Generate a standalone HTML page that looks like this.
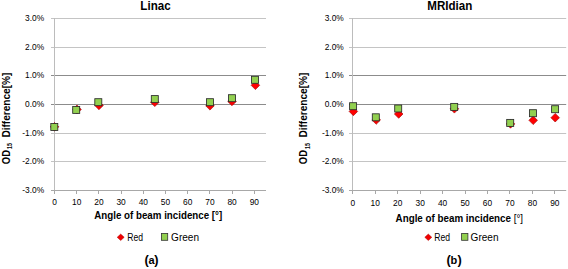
<!DOCTYPE html><html><head><meta charset="utf-8"><style>html,body{margin:0;padding:0;background:#fff;width:568px;height:269px;overflow:hidden}svg{display:block}</style></head><body>
<svg width="568" height="269" viewBox="0 0 568 269" font-family='"Liberation Sans", sans-serif'>
<rect width="568" height="269" fill="#fff"/>
<line x1="51" y1="18.5" x2="266" y2="18.5" stroke="#c4c4c4" stroke-width="1"/>
<line x1="51" y1="47.5" x2="266" y2="47.5" stroke="#c4c4c4" stroke-width="1"/>
<line x1="51" y1="75.5" x2="266" y2="75.5" stroke="#8c8c8c" stroke-width="1"/>
<line x1="51" y1="104.5" x2="266" y2="104.5" stroke="#8c8c8c" stroke-width="1"/>
<line x1="51" y1="133.5" x2="266" y2="133.5" stroke="#c4c4c4" stroke-width="1"/>
<line x1="51" y1="161.5" x2="266" y2="161.5" stroke="#c4c4c4" stroke-width="1"/>
<line x1="51" y1="190.5" x2="266" y2="190.5" stroke="#a8a8a8" stroke-width="1"/>
<line x1="54.5" y1="18" x2="54.5" y2="194" stroke="#bcbcbc" stroke-width="1"/>
<line x1="54.5" y1="190" x2="54.5" y2="194" stroke="#a8a8a8" stroke-width="1"/>
<line x1="76.5" y1="190" x2="76.5" y2="194" stroke="#a8a8a8" stroke-width="1"/>
<line x1="98.5" y1="190" x2="98.5" y2="194" stroke="#a8a8a8" stroke-width="1"/>
<line x1="121.5" y1="190" x2="121.5" y2="194" stroke="#a8a8a8" stroke-width="1"/>
<line x1="143.5" y1="190" x2="143.5" y2="194" stroke="#a8a8a8" stroke-width="1"/>
<line x1="165.5" y1="190" x2="165.5" y2="194" stroke="#a8a8a8" stroke-width="1"/>
<line x1="187.5" y1="190" x2="187.5" y2="194" stroke="#a8a8a8" stroke-width="1"/>
<line x1="209.5" y1="190" x2="209.5" y2="194" stroke="#a8a8a8" stroke-width="1"/>
<line x1="232.5" y1="190" x2="232.5" y2="194" stroke="#a8a8a8" stroke-width="1"/>
<line x1="254.5" y1="190" x2="254.5" y2="194" stroke="#a8a8a8" stroke-width="1"/>
<text x="44.2" y="21.4" text-anchor="end" font-size="8.4" fill="#000">3.0%</text>
<text x="44.2" y="50.4" text-anchor="end" font-size="8.4" fill="#000">2.0%</text>
<text x="44.2" y="78.4" text-anchor="end" font-size="8.4" fill="#000">1.0%</text>
<text x="44.2" y="107.4" text-anchor="end" font-size="8.4" fill="#000">0.0%</text>
<text x="44.2" y="136.4" text-anchor="end" font-size="8.4" fill="#000">-1.0%</text>
<text x="44.2" y="164.4" text-anchor="end" font-size="8.4" fill="#000">-2.0%</text>
<text x="44.2" y="193.4" text-anchor="end" font-size="8.4" fill="#000">-3.0%</text>
<text x="54.5" y="204.8" text-anchor="middle" font-size="8.4" fill="#000">0</text>
<text x="76.7" y="204.8" text-anchor="middle" font-size="8.4" fill="#000">10</text>
<text x="98.9" y="204.8" text-anchor="middle" font-size="8.4" fill="#000">20</text>
<text x="121.1" y="204.8" text-anchor="middle" font-size="8.4" fill="#000">30</text>
<text x="143.3" y="204.8" text-anchor="middle" font-size="8.4" fill="#000">40</text>
<text x="165.5" y="204.8" text-anchor="middle" font-size="8.4" fill="#000">50</text>
<text x="187.7" y="204.8" text-anchor="middle" font-size="8.4" fill="#000">60</text>
<text x="209.9" y="204.8" text-anchor="middle" font-size="8.4" fill="#000">70</text>
<text x="232.1" y="204.8" text-anchor="middle" font-size="8.4" fill="#000">80</text>
<text x="254.29999999999998" y="204.8" text-anchor="middle" font-size="8.4" fill="#000">90</text>
<text x="155.5" y="9.9" text-anchor="middle" font-size="12.3" font-weight="bold" fill="#000" textLength="30.3" lengthAdjust="spacingAndGlyphs">Linac</text>
<text transform="translate(9.6,164.2) rotate(-90)" x="0" y="0" font-size="10.2" font-weight="bold" fill="#000" textLength="14.3" lengthAdjust="spacingAndGlyphs">OD</text>
<text transform="translate(12.0,148.9) rotate(-90)" x="0" y="0" font-size="6.6" font-weight="bold" fill="#000" textLength="5.8" lengthAdjust="spacingAndGlyphs">15</text>
<text transform="translate(9.6,137.6) rotate(-90)" x="0" y="0" font-size="10.2" font-weight="bold" fill="#000" textLength="64.9" lengthAdjust="spacingAndGlyphs">Difference[%]</text>
<text x="94.3" y="219.1" font-size="10.3" font-weight="bold" fill="#000" textLength="127.9" lengthAdjust="spacingAndGlyphs">Angle of beam incidence [°]</text>
<path d="M120.7 234.10000000000002 L124.2 237.3 L120.7 240.5 L117.2 237.3 Z" fill="#f00000" stroke="#b00000" stroke-width="0.5"/>
<text x="127.3" y="240.5" font-size="10.4" fill="#000" textLength="15.8" lengthAdjust="spacingAndGlyphs">Red</text>
<rect x="161.4" y="233.4" width="6.3" height="6.9" fill="#92d050" stroke="#333" stroke-width="0.8"/>
<text x="171.1" y="240.5" font-size="10.4" fill="#000" textLength="27.9" lengthAdjust="spacingAndGlyphs">Green</text>
<path d="M54.5 122.5 L58.8 126.8 L54.5 131.1 L50.2 126.8 Z" fill="#ff0000" stroke="#a00000" stroke-width="0.6"/>
<path d="M77 105.10000000000001 L81.3 109.4 L77 113.7 L72.7 109.4 Z" fill="#ff0000" stroke="#a00000" stroke-width="0.6"/>
<path d="M99 101.10000000000001 L103.3 105.4 L99 109.7 L94.7 105.4 Z" fill="#ff0000" stroke="#a00000" stroke-width="0.6"/>
<path d="M154.8 98.0 L159.10000000000002 102.3 L154.8 106.6 L150.5 102.3 Z" fill="#ff0000" stroke="#a00000" stroke-width="0.6"/>
<path d="M210 101.5 L214.3 105.8 L210 110.1 L205.7 105.8 Z" fill="#ff0000" stroke="#a00000" stroke-width="0.6"/>
<path d="M232 97.10000000000001 L236.3 101.4 L232 105.7 L227.7 101.4 Z" fill="#ff0000" stroke="#a00000" stroke-width="0.6"/>
<path d="M255.4 81.0 L259.7 85.3 L255.4 89.6 L251.1 85.3 Z" fill="#ff0000" stroke="#a00000" stroke-width="0.6"/>
<rect x="50.8" y="123.5" width="7.0" height="7.0" fill="#92d050" stroke="#2a2a2a" stroke-width="0.85"/>
<rect x="72.7" y="106.4" width="7.0" height="7.0" fill="#92d050" stroke="#2a2a2a" stroke-width="0.85"/>
<rect x="94.8" y="98.7" width="7.0" height="7.0" fill="#92d050" stroke="#2a2a2a" stroke-width="0.85"/>
<rect x="151.3" y="95.6" width="7.0" height="7.0" fill="#92d050" stroke="#2a2a2a" stroke-width="0.85"/>
<rect x="206.5" y="98.7" width="7.0" height="7.0" fill="#92d050" stroke="#2a2a2a" stroke-width="0.85"/>
<rect x="228.5" y="94.7" width="7.0" height="7.0" fill="#92d050" stroke="#2a2a2a" stroke-width="0.85"/>
<rect x="251.5" y="76.3" width="7.0" height="7.0" fill="#92d050" stroke="#2a2a2a" stroke-width="0.85"/>
<text x="144.5" y="263.7" font-size="12.8" font-weight="bold" fill="#000">(</text>
<text x="148.4" y="263.6" font-size="11" font-weight="bold" fill="#000">a</text>
<text x="154.3" y="263.7" font-size="12.8" font-weight="bold" fill="#000">)</text>
<line x1="349" y1="18.5" x2="566.2" y2="18.5" stroke="#c4c4c4" stroke-width="1"/>
<line x1="349" y1="47.5" x2="566.2" y2="47.5" stroke="#c4c4c4" stroke-width="1"/>
<line x1="349" y1="75.5" x2="566.2" y2="75.5" stroke="#8c8c8c" stroke-width="1"/>
<line x1="349" y1="104.5" x2="566.2" y2="104.5" stroke="#8c8c8c" stroke-width="1"/>
<line x1="349" y1="133.5" x2="566.2" y2="133.5" stroke="#c4c4c4" stroke-width="1"/>
<line x1="349" y1="161.5" x2="566.2" y2="161.5" stroke="#c4c4c4" stroke-width="1"/>
<line x1="349" y1="190.5" x2="566.2" y2="190.5" stroke="#a8a8a8" stroke-width="1"/>
<line x1="352.5" y1="18" x2="352.5" y2="194" stroke="#bcbcbc" stroke-width="1"/>
<line x1="352.5" y1="190" x2="352.5" y2="194" stroke="#a8a8a8" stroke-width="1"/>
<line x1="375.5" y1="190" x2="375.5" y2="194" stroke="#a8a8a8" stroke-width="1"/>
<line x1="397.5" y1="190" x2="397.5" y2="194" stroke="#a8a8a8" stroke-width="1"/>
<line x1="420.5" y1="190" x2="420.5" y2="194" stroke="#a8a8a8" stroke-width="1"/>
<line x1="442.5" y1="190" x2="442.5" y2="194" stroke="#a8a8a8" stroke-width="1"/>
<line x1="465.5" y1="190" x2="465.5" y2="194" stroke="#a8a8a8" stroke-width="1"/>
<line x1="487.5" y1="190" x2="487.5" y2="194" stroke="#a8a8a8" stroke-width="1"/>
<line x1="509.5" y1="190" x2="509.5" y2="194" stroke="#a8a8a8" stroke-width="1"/>
<line x1="532.5" y1="190" x2="532.5" y2="194" stroke="#a8a8a8" stroke-width="1"/>
<line x1="554.5" y1="190" x2="554.5" y2="194" stroke="#a8a8a8" stroke-width="1"/>
<text x="343.8" y="21.4" text-anchor="end" font-size="8.4" fill="#000">3.0%</text>
<text x="343.8" y="50.4" text-anchor="end" font-size="8.4" fill="#000">2.0%</text>
<text x="343.8" y="78.4" text-anchor="end" font-size="8.4" fill="#000">1.0%</text>
<text x="343.8" y="107.4" text-anchor="end" font-size="8.4" fill="#000">0.0%</text>
<text x="343.8" y="136.4" text-anchor="end" font-size="8.4" fill="#000">-1.0%</text>
<text x="343.8" y="164.4" text-anchor="end" font-size="8.4" fill="#000">-2.0%</text>
<text x="343.8" y="193.4" text-anchor="end" font-size="8.4" fill="#000">-3.0%</text>
<text x="352.8" y="206" text-anchor="middle" font-size="8.4" fill="#000">0</text>
<text x="375.25" y="206" text-anchor="middle" font-size="8.4" fill="#000">10</text>
<text x="397.7" y="206" text-anchor="middle" font-size="8.4" fill="#000">20</text>
<text x="420.15" y="206" text-anchor="middle" font-size="8.4" fill="#000">30</text>
<text x="442.6" y="206" text-anchor="middle" font-size="8.4" fill="#000">40</text>
<text x="465.05" y="206" text-anchor="middle" font-size="8.4" fill="#000">50</text>
<text x="487.5" y="206" text-anchor="middle" font-size="8.4" fill="#000">60</text>
<text x="509.95000000000005" y="206" text-anchor="middle" font-size="8.4" fill="#000">70</text>
<text x="532.4" y="206" text-anchor="middle" font-size="8.4" fill="#000">80</text>
<text x="554.85" y="206" text-anchor="middle" font-size="8.4" fill="#000">90</text>
<text x="449.8" y="9.9" text-anchor="middle" font-size="12.3" font-weight="bold" fill="#000" textLength="45.1" lengthAdjust="spacingAndGlyphs">MRIdian</text>
<text transform="translate(307.1,164.2) rotate(-90)" x="0" y="0" font-size="10.2" font-weight="bold" fill="#000" textLength="14.3" lengthAdjust="spacingAndGlyphs">OD</text>
<text transform="translate(309.5,148.9) rotate(-90)" x="0" y="0" font-size="6.6" font-weight="bold" fill="#000" textLength="5.8" lengthAdjust="spacingAndGlyphs">15</text>
<text transform="translate(307.1,137.6) rotate(-90)" x="0" y="0" font-size="10.2" font-weight="bold" fill="#000" textLength="64.9" lengthAdjust="spacingAndGlyphs">Difference[%]</text>
<text x="395.6" y="221.7" font-size="10.3" font-weight="bold" fill="#000" textLength="127.5" lengthAdjust="spacingAndGlyphs">Angle of beam incidence <tspan font-weight="normal">[°]</tspan></text>
<path d="M428.3 234.10000000000002 L431.8 237.3 L428.3 240.5 L424.8 237.3 Z" fill="#f00000" stroke="#b00000" stroke-width="0.5"/>
<text x="434.3" y="240.5" font-size="10.4" fill="#000" textLength="15.8" lengthAdjust="spacingAndGlyphs">Red</text>
<rect x="461.59999999999997" y="233.4" width="6.3" height="6.9" fill="#92d050" stroke="#333" stroke-width="0.8"/>
<text x="470.6" y="240.5" font-size="10.4" fill="#000" textLength="27.9" lengthAdjust="spacingAndGlyphs">Green</text>
<path d="M353.4 107.10000000000001 L357.7 111.4 L353.4 115.7 L349.09999999999997 111.4 Z" fill="#ff0000" stroke="#a00000" stroke-width="0.6"/>
<path d="M376.2 115.7 L380.5 120 L376.2 124.3 L371.9 120 Z" fill="#ff0000" stroke="#a00000" stroke-width="0.6"/>
<path d="M398.7 109.7 L403.0 114 L398.7 118.3 L394.4 114 Z" fill="#ff0000" stroke="#a00000" stroke-width="0.6"/>
<path d="M454.4 104.5 L458.7 108.8 L454.4 113.1 L450.09999999999997 108.8 Z" fill="#ff0000" stroke="#a00000" stroke-width="0.6"/>
<path d="M510.5 119.60000000000001 L514.8 123.9 L510.5 128.20000000000002 L506.2 123.9 Z" fill="#ff0000" stroke="#a00000" stroke-width="0.6"/>
<path d="M533.2 116.0 L537.5 120.3 L533.2 124.6 L528.9000000000001 120.3 Z" fill="#ff0000" stroke="#a00000" stroke-width="0.6"/>
<path d="M555.2 113.4 L559.5 117.7 L555.2 122.0 L550.9000000000001 117.7 Z" fill="#ff0000" stroke="#a00000" stroke-width="0.6"/>
<rect x="349.6" y="102.7" width="7.0" height="7.0" fill="#92d050" stroke="#2a2a2a" stroke-width="0.85"/>
<rect x="372.3" y="113.8" width="7.0" height="7.0" fill="#92d050" stroke="#2a2a2a" stroke-width="0.85"/>
<rect x="394.7" y="105.0" width="7.0" height="7.0" fill="#92d050" stroke="#2a2a2a" stroke-width="0.85"/>
<rect x="450.7" y="103.4" width="7.0" height="7.0" fill="#92d050" stroke="#2a2a2a" stroke-width="0.85"/>
<rect x="506.7" y="119.4" width="7.0" height="7.0" fill="#92d050" stroke="#2a2a2a" stroke-width="0.85"/>
<rect x="529.5" y="109.7" width="7.0" height="7.0" fill="#92d050" stroke="#2a2a2a" stroke-width="0.85"/>
<rect x="551.6" y="105.7" width="7.0" height="7.0" fill="#92d050" stroke="#2a2a2a" stroke-width="0.85"/>
<text x="446.5" y="263.7" font-size="12.8" font-weight="bold" fill="#000">(</text>
<text x="450.4" y="263.6" font-size="11" font-weight="bold" fill="#000">b</text>
<text x="457.6" y="263.7" font-size="12.8" font-weight="bold" fill="#000">)</text>
</svg></body></html>
